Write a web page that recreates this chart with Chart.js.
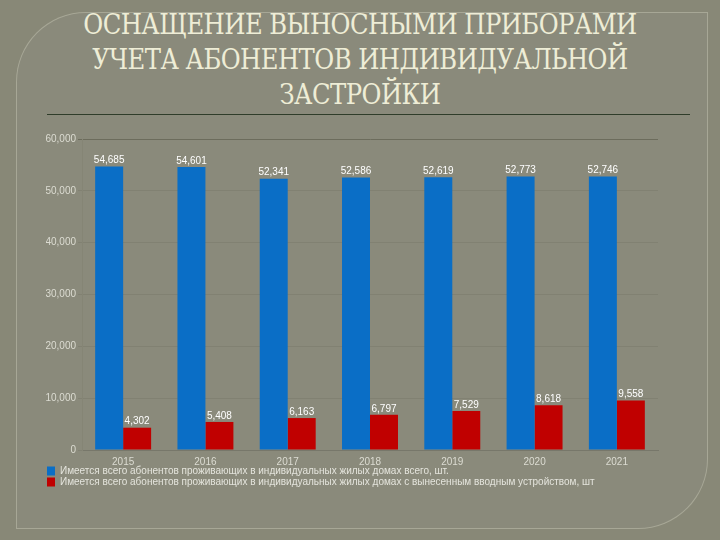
<!DOCTYPE html>
<html>
<head>
<meta charset="utf-8">
<script src="https://cdn.jsdelivr.net/npm/chart.js@4"></script>
<style>
  html, body { margin: 0; padding: 0; }
  body { width: 720px; height: 540px; background: #888877; position: relative; overflow: hidden; font-family: "Liberation Sans", sans-serif; }
  .panel { position: absolute; left: 16px; top: 12px; width: 690px; height: 515px; background: #8a8a7b;
           border: 1px solid rgba(220,220,200,0.35); border-radius: 70px 0 70px 0; }
  .title { position: absolute; left: 0; top: 7px; width: 720px; text-align: center; color: #eeedd6;
           font-family: "DejaVu Serif", serif; font-size: 27px; line-height: 35px; letter-spacing: -0.6px;
           transform: scaleX(0.9); }
  .rule { position: absolute; left: 47px; top: 114px; width: 643px; height: 1px; background: #2f3d2a; }
  .wrap { position: absolute; left: 0; top: 122px; width: 720px; height: 378px; }
</style>
</head>
<body>
<div class="panel"></div>
<div class="title">ОСНАЩЕНИЕ ВЫНОСНЫМИ ПРИБОРАМИ<br>УЧЕТА АБОНЕНТОВ ИНДИВИДУАЛЬНОЙ<br>ЗАСТРОЙКИ</div>
<div class="rule"></div>
<div class="wrap"><canvas id="myChart" width="720" height="378"></canvas></div>
<script>
var years = ['2015', '2016', '2017', '2018', '2019', '2020', '2021']
var totalSubscribers = [54685, 54601, 52341, 52586, 52619, 52773, 52746]
var withOutdoorUnit = [4302, 5408, 6163, 6797, 7529, 8618, 9558]
var seriesNames = [
    'Имеется всего абонентов проживающих в индивидуальных жилых домах всего, шт.',
    'Имеется всего абонентов проживающих в индивидуальных жилых домах с вынесенным вводным устройством, шт'
]

// values above bars
const valueLabels = {
    id: 'valueLabels',
    afterDatasetsDraw(chart) {
        const c = chart.ctx
        c.save()
        c.font = '10px "Liberation Sans", sans-serif'
        c.fillStyle = '#ffffff'
        c.textAlign = 'center'
        c.textBaseline = 'bottom'
        chart.data.datasets.forEach((ds, i) => {
            chart.getDatasetMeta(i).data.forEach((bar, j) => {
                c.fillText(ds.data[j].toLocaleString('en-US'), bar.x, bar.y - 1)
            })
        })
        c.restore()
    }
}

// legend sits tight under the year labels
const legendUp = {
    id: 'legendUp',
    afterLayout(chart) {
        chart.legend.top -= 3
        chart.legend.bottom -= 3
    }
}

const ctx = document.getElementById('myChart')
const myChart = new Chart(ctx, {
    type: 'bar',
    data: {
        labels: years,
        datasets: [{
            label: seriesNames[0],
            data: totalSubscribers,
            backgroundColor: '#0a6ec6'
        }, {
            label: seriesNames[1],
            data: withOutdoorUnit,
            backgroundColor: '#c00000'
        }]
    },
    options: {
        responsive: false,
        animation: false,
        devicePixelRatio: 1,
        layout: { padding: { left: 46, right: 62, top: 17, bottom: 0 } },
        datasets: { bar: { categoryPercentage: 0.68, barPercentage: 1.0 } },
        scales: {
            x: {
                grid: { display: false },
                border: { color: '#77776a' },
                ticks: { color: '#dcdcd2', font: { size: 10 }, padding: -2, maxRotation: 0 },
                afterFit: s => { s.height = 18 }
            },
            y: {
                min: 0, max: 60000,
                ticks: {
                    stepSize: 10000, color: '#dcdcd2', font: { size: 10 }, padding: 2,
                    callback: v => v.toLocaleString('en-US')
                },
                grid: {
                    color: c => c.tick && c.tick.value === 60000 ? '#6c6c5c' : 'rgba(120,120,105,0.5)',
                    tickLength: 4
                },
                border: { color: '#858575' },
                afterFit: s => { s.width = 36 }
            }
        },
        plugins: {
            legend: {
                position: 'bottom',
                align: 'start',
                labels: { boxWidth: 8, boxHeight: 9, padding: 1, color: '#e4e4dc', font: { size: 10 } }
            },
            tooltip: { enabled: false }
        }
    },
    plugins: [valueLabels, legendUp]
})
</script>
</body>
</html>
